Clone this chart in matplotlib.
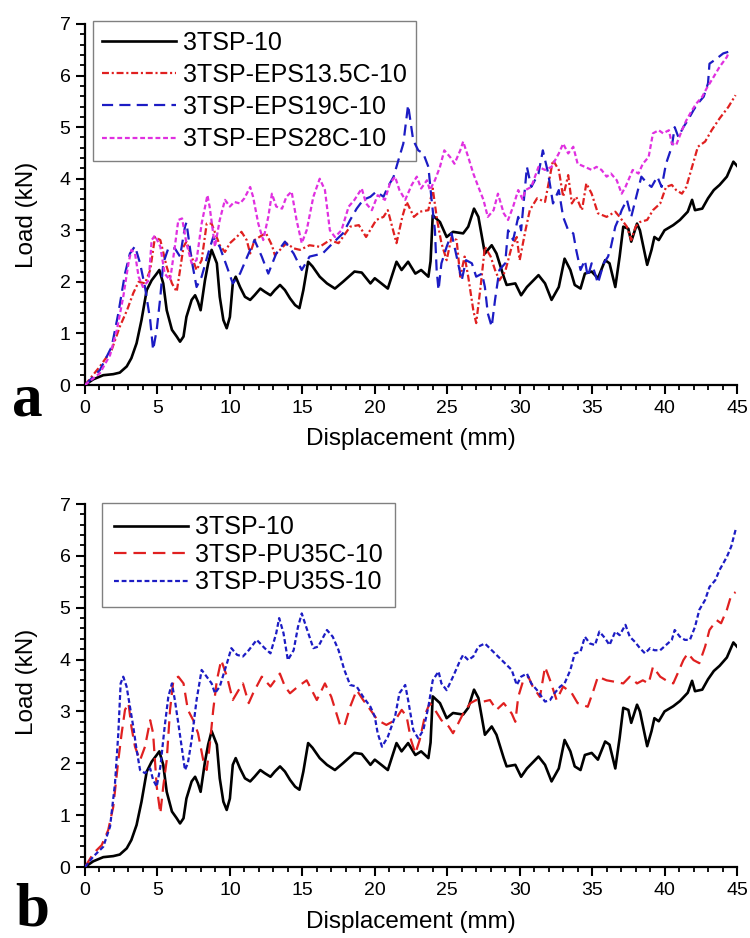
import matplotlib
matplotlib.use("Agg")
import matplotlib.pyplot as plt
from matplotlib.ticker import MultipleLocator

plt.rcParams['font.family'] = ['Liberation Sans', 'DejaVu Sans']
plt.rcParams['lines.scale_dashes'] = False

# ---------------- data ----------------
tsp10_x = [0, 0.57, 1.26, 1.95, 2.4, 2.88, 3.2, 3.56, 3.9, 4.26, 4.6, 4.95, 5.13, 5.4, 5.64, 6.0, 6.33, 6.56,
           6.8, 7.0, 7.36, 7.6, 7.8, 7.98, 8.28, 8.5, 8.74, 9.1, 9.3, 9.55, 9.78, 10.0, 10.2, 10.4, 10.7, 11.04,
           11.4, 11.7, 12.1, 12.4, 12.8, 13.1, 13.46, 13.8, 14.15, 14.5, 14.8, 15.07, 15.4, 15.7, 16.2, 16.7,
           17.25, 17.8, 18.6, 19.1, 19.7, 20.0, 20.5, 20.9, 21.5, 21.85, 22.3, 22.8, 23.2, 23.7, 23.85, 24.0,
           24.5, 24.96, 25.4, 26.1, 26.45, 26.85, 27.15, 27.6, 28.07, 28.4, 28.9, 29.1, 29.7, 30.1, 30.5, 31.3,
           31.75, 32.2, 32.7, 33.1, 33.5, 33.8, 34.2, 34.5, 34.97, 35.4, 35.9, 36.2, 36.6, 36.9, 37.15, 37.5,
           37.7, 38.1, 38.3, 38.8, 39.1, 39.3, 39.6, 40.0, 40.6, 41.06, 41.6, 41.9, 42.1, 42.6, 43.0, 43.4,
           43.8, 44.3, 44.75, 45.0]
tsp10_y = [0, 0.11, 0.19, 0.21, 0.24, 0.36, 0.52, 0.81, 1.26, 1.84, 2.03, 2.16, 2.23, 1.97, 1.45, 1.07, 0.94, 0.84,
           0.94, 1.32, 1.65, 1.74, 1.61, 1.45, 2.03, 2.36, 2.62, 2.36, 1.71, 1.26, 1.1, 1.32, 1.97, 2.1, 1.9, 1.71,
           1.65, 1.74, 1.87, 1.81, 1.74, 1.84, 1.94, 1.84, 1.68, 1.55, 1.49, 1.84, 2.39, 2.3, 2.1, 1.97,
           1.87, 2.0, 2.2, 2.18, 1.97, 2.07, 1.96, 1.87, 2.39, 2.23, 2.39, 2.16, 2.23, 2.1, 2.4, 3.29,
           3.16, 2.87, 2.97, 2.94, 3.07, 3.42, 3.26, 2.55, 2.71, 2.55, 2.1, 1.94, 1.97, 1.74, 1.9, 2.13,
           1.97, 1.65, 1.9, 2.45, 2.23, 1.94, 1.87, 2.16, 2.2, 2.07, 2.42, 2.36, 1.9, 2.49, 3.07, 3.03,
           2.78, 3.13, 3.0, 2.33, 2.62, 2.87, 2.81, 3.0, 3.1, 3.2, 3.36, 3.59, 3.39, 3.42, 3.62, 3.78,
           3.88, 4.04, 4.33, 4.25]

eps135_x = [0, 1.03, 1.84, 2.4, 2.9, 3.33, 3.7, 4.14, 4.5, 4.83, 5.2, 5.64, 6.0, 6.33, 6.56, 6.8, 7.0, 7.36, 7.7,
            8.05, 8.4, 8.74, 9.3, 9.66, 10.0, 10.47, 10.8, 11.16, 11.4, 11.7, 12.2, 12.5, 12.9, 13.1, 13.46, 13.9,
            14.4, 14.84, 15.5, 16.2, 16.9, 17.5, 18.3, 18.9, 19.4, 20.1, 20.6, 20.9, 21.5, 21.9, 22.2, 22.7,
            23.1, 23.7, 24.0, 24.3, 24.6, 24.96, 25.3, 25.65, 25.9, 26.2, 26.45, 26.8, 27.0, 27.3, 27.6, 28.0,
            28.3, 28.6, 29.0, 29.45, 29.8, 30.0, 30.4, 30.7, 31.2, 31.75, 32.3, 32.7, 33.0, 33.35, 33.6, 33.9,
            34.3, 34.6, 34.97, 35.4, 36.0, 36.6, 36.9, 37.4, 37.7, 38.0, 38.3, 38.8, 39.2, 39.7, 40.1, 40.5,
            40.8, 41.2, 41.5, 41.9, 42.3, 42.8, 43.25, 43.8, 44.4, 44.9]
eps135_y = [0, 0.36, 0.68, 1.13, 1.45, 1.78, 2.0, 1.97, 2.23, 2.87, 2.81, 2.29, 1.97, 1.81, 2.23, 2.68, 2.78, 2.49, 2.23,
            2.42, 3.13, 3.13, 2.71, 2.58, 2.75, 2.87, 2.97, 2.81, 2.55, 2.81, 2.9, 2.94, 2.71, 2.52, 2.62, 2.75,
            2.65, 2.62, 2.71, 2.68, 2.81, 2.75, 3.07, 3.1, 2.87, 3.2, 3.26, 3.39, 2.75, 3.26, 3.55, 3.26,
            3.36, 3.39, 3.81, 3.2, 2.75, 2.42, 2.87, 2.81, 2.1, 2.49, 2.1, 1.45, 1.2, 1.9, 2.68, 2.49,
            2.23, 2.03, 2.2, 2.68, 2.87, 2.42, 3.0, 3.39, 3.62, 3.55, 4.36, 4.17, 3.65, 4.07, 3.52, 3.65,
            3.39, 3.91, 3.71, 3.33, 3.26, 3.36, 3.26, 3.07, 2.81, 3.07, 3.16, 3.2, 3.39, 3.52, 3.84, 3.88,
            3.78, 3.71, 3.84, 4.23, 4.62, 4.72, 4.94, 5.17, 5.39, 5.62]

eps19_x = [0, 1.03, 1.84, 2.3, 2.76, 3.1, 3.45, 3.8, 4.14, 4.5, 4.7, 4.95, 5.2, 5.4, 5.75, 6.2, 6.56, 6.9, 7.0, 7.36,
           7.7, 8.05, 8.5, 8.85, 9.3, 9.8, 10.2, 10.7, 11.2, 11.7, 12.2, 12.65, 13.2, 13.8, 14.4, 14.96, 15.5, 16.4,
           17.1, 17.8, 18.3, 18.75, 19.2, 19.7, 20.1, 20.6, 20.9, 21.3, 21.6, 21.97, 22.3, 22.65, 23.0, 23.35,
           23.7, 23.9, 24.15, 24.27, 24.4, 24.6, 24.96, 25.3, 25.65, 26.0, 26.3, 26.7, 27.0, 27.4, 27.6, 27.8,
           28.07, 28.3, 28.6, 29.0, 29.2, 29.55, 29.9, 30.1, 30.5, 30.8, 31.3, 31.6, 31.97, 32.3, 32.7, 33.0,
           33.35, 33.7, 33.9, 34.2, 34.5, 34.7, 34.97, 35.2, 35.4, 35.8, 36.1, 36.3, 36.6, 36.8, 37.04, 37.4,
           37.7, 38.1, 38.4, 38.8, 39.1, 39.5, 39.8, 40.1, 40.5, 40.7, 40.95, 41.3, 41.6, 42.0, 42.3, 42.7,
           43.0, 43.1, 43.6, 44.05, 44.4]
eps19_y = [0, 0.29, 0.74, 1.39, 2.16, 2.55, 2.69, 2.36, 1.9, 1.26, 0.68, 1.07, 1.71, 2.36, 2.65, 2.65, 2.49, 3.07, 3.15, 2.42,
           1.9, 2.1, 2.55, 2.87, 2.68, 2.29, 1.97, 2.16, 2.49, 2.81, 2.49, 2.16, 2.55, 2.78, 2.55, 2.23, 2.49, 2.55,
           2.75, 2.94, 3.2, 3.42, 3.59, 3.65, 3.75, 3.65, 3.84, 4.04, 4.33, 4.68, 5.43, 4.75, 4.55, 4.49,
           4.23, 3.65, 3.0, 2.23, 1.84, 2.36, 2.68, 2.94, 2.49, 2.03, 2.42, 2.36, 2.1, 2.16, 1.9, 1.39,
           1.13, 1.65, 2.23, 2.36, 3.0, 2.81, 3.26, 3.0, 4.23, 3.84, 4.1, 4.55, 4.1, 3.52, 3.78, 3.26,
           3.0, 2.94, 2.62, 2.23, 2.42, 2.1, 2.36, 2.16, 1.97, 2.36, 2.49, 2.68, 3.07, 3.2, 3.39, 3.59,
           3.26, 3.71, 4.04, 3.91, 3.84, 4.04, 3.84, 4.29, 4.62, 5.0, 4.81, 5.0, 5.13, 5.33, 5.46, 5.59,
           5.85, 6.23, 6.33, 6.43, 6.46]

eps28_x = [0, 1.03, 1.73, 2.2, 2.64, 3.0, 3.2, 3.45, 3.7, 4.0, 4.4, 4.6, 4.83, 5.2, 5.5, 5.87, 6.2, 6.44, 6.7, 7.0,
           7.36, 7.7, 8.05, 8.45, 8.6, 8.97, 9.3, 9.66, 10.0, 10.3, 10.7, 11.0, 11.4, 11.6, 11.96, 12.3, 12.65,
           12.9, 13.2, 13.6, 13.9, 14.26, 14.6, 14.96, 15.3, 15.76, 16.2, 16.56, 16.9, 17.25, 17.7, 18.2, 18.6,
           19.1, 19.4, 19.8, 20.2, 20.7, 21.05, 21.4, 21.7, 22.1, 22.55, 22.9, 23.2, 23.6, 23.8, 24.15, 24.5,
           24.8, 25.2, 25.5, 25.9, 26.1, 26.45, 26.8, 27.15, 27.5, 27.8, 28.2, 28.5, 28.9, 29.2, 29.55, 29.9,
           30.2, 30.4, 30.8, 31.3, 31.75, 32.2, 32.7, 33.0, 33.35, 33.7, 34.0, 34.5, 34.97, 35.3, 35.65, 36.0,
           36.3, 36.7, 37.04, 37.3, 37.5, 37.8, 38.2, 38.5, 38.9, 39.2, 39.6, 39.9, 40.3, 40.5, 40.8, 41.2,
           41.5, 41.9, 42.2, 42.6, 42.9, 43.4, 43.8, 44.3, 44.4]
eps28_y = [0, 0.23, 0.58, 1.07, 1.71, 2.36, 2.62, 2.55, 2.1, 1.9, 2.03, 2.81, 2.9, 2.68, 2.16, 2.03, 2.68, 3.2, 3.23, 2.75,
           2.36, 2.42, 3.13, 3.68, 3.46, 2.68, 3.2, 3.59, 3.46, 3.55, 3.52, 3.62, 3.84, 3.65, 3.13, 2.81, 3.26,
           3.71, 3.46, 3.42, 3.65, 3.75, 3.2, 2.75, 3.0, 3.65, 4.0, 3.78, 3.0, 2.87, 3.0, 3.46, 3.59,
           3.81, 3.52, 3.39, 3.68, 3.59, 3.91, 4.04, 3.78, 3.59, 3.88, 4.04, 3.81, 3.97, 3.78, 3.97, 4.23,
           4.55, 4.42, 4.29, 4.55, 4.72, 4.42, 4.1, 3.84, 3.59, 3.26, 3.39, 3.71, 3.33, 3.2, 3.46, 3.78,
           3.6, 3.78, 3.84, 4.23, 4.17, 4.23, 4.49, 4.68, 4.49, 4.62, 4.29, 4.23, 4.17, 4.23, 4.17, 4.04,
           4.1, 3.97, 3.71, 3.84, 3.97, 4.17, 4.1, 4.29, 4.42, 4.88, 4.94, 4.88, 4.94, 4.68, 4.65, 4.94,
           5.13, 5.33, 5.46, 5.59, 5.75, 5.98, 6.17, 6.36, 6.43]

pu35c_x = [0, 0.57, 1.15, 1.6, 1.95, 2.3, 2.53, 2.76, 3.0, 3.2, 3.45, 3.8, 4.14, 4.5, 4.7, 4.95, 5.2, 5.4, 5.64, 5.87,
           6.1, 6.44, 6.8, 7.1, 7.47, 7.8, 8.16, 8.4, 8.6, 8.85, 9.1, 9.4, 9.8, 10.2, 10.6, 10.9, 11.3, 11.6, 12.2,
           12.8, 13.45, 13.8, 14.15, 14.7, 15.3, 16.0, 16.56, 17.0, 17.6, 17.9, 18.3, 18.75, 19.2, 19.7, 20.2,
           20.8, 21.4, 21.86, 22.2, 22.5, 22.8, 23.1, 23.5, 23.8, 24.15, 24.6, 25.1, 25.4, 25.76, 26.1, 26.6,
           27.0, 27.5, 27.95, 28.4, 28.9, 29.45, 29.7, 29.9, 30.25, 30.6, 30.9, 31.4, 31.75, 32.1, 32.55, 33.0,
           33.6, 34.0, 34.7, 35.1, 35.4, 36.0, 36.6, 37.15, 37.6, 38.1, 38.5, 38.9, 39.2, 39.7, 40.1, 40.6,
           40.9, 41.3, 41.6, 42.0, 42.4, 42.8, 43.1, 43.6, 43.9, 44.3, 44.6, 44.9]
pu35c_y = [0, 0.26, 0.42, 0.71, 1.16, 2.06, 2.58, 3.03, 3.16, 2.71, 2.32, 2.06, 2.32, 2.83, 2.58, 1.55, 1.03, 1.55, 2.06, 3.03,
           3.6, 3.67, 3.54, 3.03, 2.83, 2.58, 2.06, 1.87, 2.32, 3.03, 3.6, 3.99, 3.67, 3.22, 3.41, 3.54, 3.16, 3.35, 3.67,
           3.48, 3.73, 3.48, 3.35, 3.48, 3.6, 3.22, 3.54, 3.28, 2.74, 2.71, 3.09, 3.41, 3.22, 3.03, 2.83,
           2.74, 2.83, 3.03, 2.9, 2.45, 2.19, 2.45, 2.96, 3.16, 3.03, 2.83, 2.71, 2.58, 2.77, 2.96, 3.16,
           3.22, 3.19, 3.22, 3.03, 3.16, 2.96, 2.8, 3.28, 3.6, 3.67, 3.48, 3.28, 3.86, 3.6, 3.22, 3.48,
           3.35, 3.16, 3.09, 3.41, 3.67, 3.6, 3.57, 3.54, 3.67, 3.54, 3.6, 3.54, 3.86, 3.67, 3.6, 3.54,
           3.73, 3.99, 4.12, 3.99, 3.93, 4.25, 4.57, 4.76, 4.7, 4.96, 5.24, 5.3]

pu35s_x = [0, 0.57, 1.26, 1.73, 2.07, 2.3, 2.46, 2.64, 2.87, 3.1, 3.33, 3.56, 3.8, 4.14, 4.5, 4.7, 4.95, 5.2, 5.5, 5.75,
           6.0, 6.2, 6.44, 6.67, 6.9, 7.1, 7.36, 7.7, 8.05, 8.4, 8.74, 8.97, 9.3, 9.8, 10.1, 10.5, 10.9, 11.3, 11.85,
           12.4, 12.8, 13.2, 13.4, 13.7, 14.0, 14.4, 14.7, 14.96, 15.3, 15.76, 16.1, 16.7, 17.1, 17.5, 17.9, 18.3,
           18.75, 19.2, 19.7, 20.0, 20.2, 20.5, 20.9, 21.4, 21.7, 22.1, 22.3, 22.66, 23.0, 23.35, 23.7, 24.0,
           24.4, 24.6, 24.96, 25.4, 25.9, 26.1, 26.45, 26.8, 27.15, 27.6, 28.07, 28.5, 28.98, 29.45, 29.8, 30.1,
           30.5, 30.8, 31.2, 31.75, 32.1, 32.4, 32.8, 33.1, 33.5, 33.8, 34.2, 34.5, 34.85, 35.2, 35.5, 35.9,
           36.2, 36.6, 36.9, 37.3, 37.6, 37.96, 38.3, 38.65, 39.0, 39.3, 39.7, 40.1, 40.5, 40.7, 41.06, 41.4,
           41.75, 42.1, 42.4, 42.8, 43.1, 43.5, 43.8, 44.3, 44.6, 44.9]
pu35s_y = [0, 0.2, 0.39, 0.78, 1.61, 2.58, 3.54, 3.67, 3.48, 3.09, 2.71, 2.26, 1.87, 1.81, 1.9, 1.68, 1.55, 1.93, 2.71, 3.28,
           3.54, 3.22, 2.77, 2.32, 1.87, 2.0, 2.45, 3.22, 3.8, 3.67, 3.54, 3.35, 3.48, 3.93, 4.22, 4.09, 4.06, 4.18, 4.38,
           4.22, 4.12, 4.51, 4.8, 4.51, 3.99, 4.18, 4.63, 4.89, 4.6, 4.22, 4.25, 4.57, 4.44, 4.18, 3.8, 3.51,
           3.48, 3.28, 3.09, 2.9, 2.58, 2.32, 2.51, 2.9, 3.35, 3.51, 3.22, 2.64, 2.48, 2.64, 3.09, 3.6,
           3.77, 3.54, 3.41, 3.67, 3.99, 4.09, 3.99, 4.06, 4.25, 4.31, 4.18, 4.06, 3.93, 3.8, 3.51, 3.67,
           3.73, 3.54, 3.41, 3.19, 3.22, 3.35, 3.48, 3.54, 3.8, 4.12, 4.15, 4.44, 4.31, 4.28, 4.54, 4.41,
           4.28, 4.54, 4.47, 4.67, 4.44, 4.34, 4.22, 4.12, 4.22, 4.18, 4.18, 4.28, 4.38, 4.57, 4.44, 4.38,
           4.38, 4.63, 4.96, 5.15, 5.4, 5.53, 5.73, 5.98, 6.18, 6.5]

labels_a = ["3TSP-10", "3TSP-EPS13.5C-10", "3TSP-EPS19C-10", "3TSP-EPS28C-10"]
labels_b = ["3TSP-10", "3TSP-PU35C-10", "3TSP-PU35S-10"]
x_label = "Displacement (mm)"
y_label = "Load (kN)"

# ---------------- styles ----------------
BLACK = "#000000"
RED = "#e02020"
BLUE = "#1c1cc4"
MAGENTA = "#e030e0"

fig = plt.figure(figsize=(7.5, 9.38), dpi=100)
ax_a = fig.add_axes([85/750, 1-385/938, 652/750, 361/938])
ax_b = fig.add_axes([85/750, 1-867/938, 652/750, 363/938])


def style_axes(ax, ylab_y):
    ax.set_xlim(0, 45)
    ax.set_ylim(0, 7)
    ax.spines['top'].set_visible(False)
    ax.spines['right'].set_visible(False)
    for s in ('left', 'bottom'):
        ax.spines[s].set_linewidth(1.6)
    ax.xaxis.set_major_locator(MultipleLocator(5))
    ax.xaxis.set_minor_locator(MultipleLocator(1))
    ax.yaxis.set_major_locator(MultipleLocator(1))
    ax.yaxis.set_minor_locator(MultipleLocator(0.2))
    ax.tick_params(which='major', direction='out', length=6.5, width=1.5, labelsize=14, pad=4)
    ax.tick_params(which='minor', direction='out', length=3.5, width=1.3)
    ax.set_xlabel(x_label, fontsize=17.5)
    ax.set_ylabel(y_label, fontsize=17.5)
    ax.xaxis.set_label_coords(0.5, -0.12)
    ax.yaxis.set_label_coords(-0.072, ylab_y)


def add_legend(ax, anchor, spacing, bpad):
    leg = ax.legend(loc='upper left', bbox_to_anchor=anchor, borderaxespad=0,
                    fontsize=18, handlelength=2.95, handletextpad=0.28, labelspacing=spacing,
                    borderpad=bpad, fancybox=False, framealpha=1, edgecolor='#808080')
    leg.get_frame().set_linewidth(1.0)
    leg.set_zorder(1)  # curves are drawn over the legend box, as in the original
    return leg


# panel a
ax_a.plot(tsp10_x, tsp10_y, color=BLACK, lw=1.9, label=labels_a[0], zorder=3)
ax_a.plot(eps135_x, eps135_y, color=RED, lw=1.6, ls=(0, (5, 2, 1.5, 2)), label=labels_a[1], zorder=3)
ax_a.plot(eps19_x, eps19_y, color=BLUE, lw=1.6, ls=(0, (8, 4.5)), label=labels_a[2], zorder=3)
ax_a.plot(eps28_x, eps28_y, color=MAGENTA, lw=1.6, ls=(0, (3.5, 2)), label=labels_a[3], zorder=3)
style_axes(ax_a, 0.47)
add_legend(ax_a, (0.012, 1.008), 0.33, 0.38)

# panel b
ax_b.plot(tsp10_x, tsp10_y, color=BLACK, lw=1.9, label=labels_b[0], zorder=3)
ax_b.plot(pu35c_x, pu35c_y, color=RED, lw=1.6, ls=(0, (9, 5)), label=labels_b[1], zorder=3)
ax_b.plot(pu35s_x, pu35s_y, color=BLUE, lw=1.6, ls=(0, (3.5, 2)), label=labels_b[2], zorder=3)
style_axes(ax_b, 0.51)
add_legend(ax_b, (0.026, 1.003), 0.14, 0.5)

# panel letters
fig.text(12/750, 1-415/938, "a", fontsize=44, fontweight='bold', family='Liberation Serif', va='baseline')
fig.text(15/750, 1-925/938, "b", fontsize=44, fontweight='bold', family='Liberation Serif', va='baseline')

fig.savefig("out.png", dpi=100)
